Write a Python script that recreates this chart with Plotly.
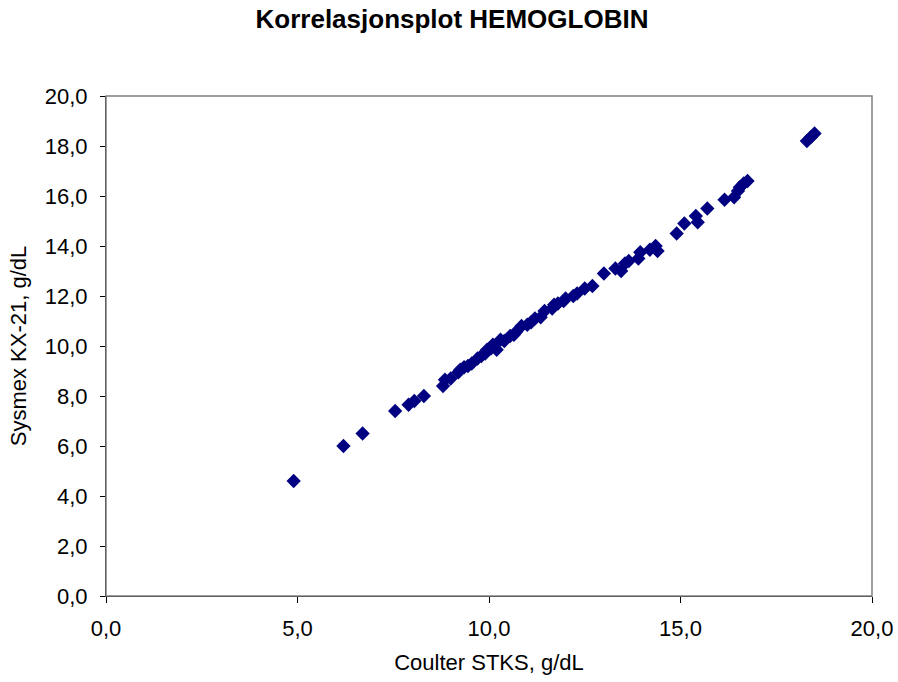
import plotly.graph_objects as go

coulter = [4.9, 6.2, 6.7, 7.55, 7.9, 8.05, 8.3, 8.8, 8.85, 9.0, 9.2, 9.25, 9.35, 9.45, 9.55,
           9.7, 9.8, 9.9, 9.95, 10.05, 10.1, 10.2, 10.3, 10.4, 10.55, 10.65, 10.7, 10.85,
           11.0, 11.1, 11.2, 11.35, 11.45, 11.65, 11.7, 11.8, 11.95, 12.0, 12.2, 12.3,
           12.5, 12.7, 13.0, 13.3, 13.45, 13.55, 13.65, 13.9, 13.95, 14.2, 14.35, 14.4,
           14.9, 15.1, 15.4, 15.45, 15.7, 16.15, 16.4, 16.5, 16.55, 16.65, 16.75,
           18.3, 18.4, 18.5]
sysmex = [4.6, 6.0, 6.5, 7.4, 7.65, 7.8, 8.0, 8.4, 8.65, 8.7, 8.95, 9.05, 9.15, 9.2, 9.3,
          9.5, 9.6, 9.7, 9.85, 9.9, 10.05, 9.85, 10.25, 10.2, 10.4, 10.45, 10.55, 10.8,
          10.85, 10.95, 11.1, 11.15, 11.4, 11.5, 11.65, 11.7, 11.8, 11.9, 12.0, 12.1,
          12.3, 12.4, 12.9, 13.1, 13.0, 13.3, 13.4, 13.5, 13.75, 13.85, 14.0, 13.8,
          14.5, 14.9, 15.2, 14.95, 15.5, 15.85, 15.95, 16.2, 16.35, 16.5, 16.6,
          18.2, 18.35, 18.5]

x_ticks = [0, 5, 10, 15, 20]
y_ticks = [0, 2, 4, 6, 8, 10, 12, 14, 16, 18, 20]

font_family = "Liberation Sans, Arial, sans-serif"

W, H = 898, 682

fig = go.Figure(go.Scatter(
    x=coulter, y=sysmex, mode="markers",
    marker=dict(symbol="diamond", size=11, color="#000080", line=dict(width=0)),
    showlegend=False, hoverinfo="x+y",
))

fig.update_layout(
    width=W, height=H,
    paper_bgcolor="white", plot_bgcolor="white",
    margin=dict(l=106, r=26, t=96, b=86),
    separators=",.",
    title=dict(text="<b>Korrelasjonsplot HEMOGLOBIN</b>", x=452 / W, xanchor="center",
               y=1 - 19 / H, yanchor="middle",
               font=dict(family=font_family, size=26, color="black")),
    font=dict(family=font_family, size=22, color="black"),
    shapes=[dict(type="rect", xref="paper", yref="paper", x0=0, x1=1, y0=0, y1=1,
                 line=dict(color="#808080", width=1.5), layer="above")],
)

fig.update_xaxes(
    range=[0, 20], tickvals=x_ticks, tickformat=".1f", automargin=False,
    showgrid=False, zeroline=False, showline=True, linecolor="black", linewidth=1,
    ticks="outside", ticklen=6, tickcolor="black", ticklabelstandoff=7,
    title=dict(text="Coulter STKS, g/dL", standoff=14, font=dict(size=22)),
    tickfont=dict(size=22),
)
fig.update_yaxes(
    range=[0, 20], tickvals=y_ticks, tickformat=".1f", automargin=False,
    showgrid=False, zeroline=False, showline=True, linecolor="black", linewidth=1,
    ticks="outside", ticklen=5, tickcolor="black", ticklabelstandoff=8,
    title=dict(text="Sysmex KX-21, g/dL", standoff=12, font=dict(size=22)),
    tickfont=dict(size=22),
)

fig.write_html("out.html", config={"displayModeBar": False},
               post_script="document.body.style.margin='0';")
